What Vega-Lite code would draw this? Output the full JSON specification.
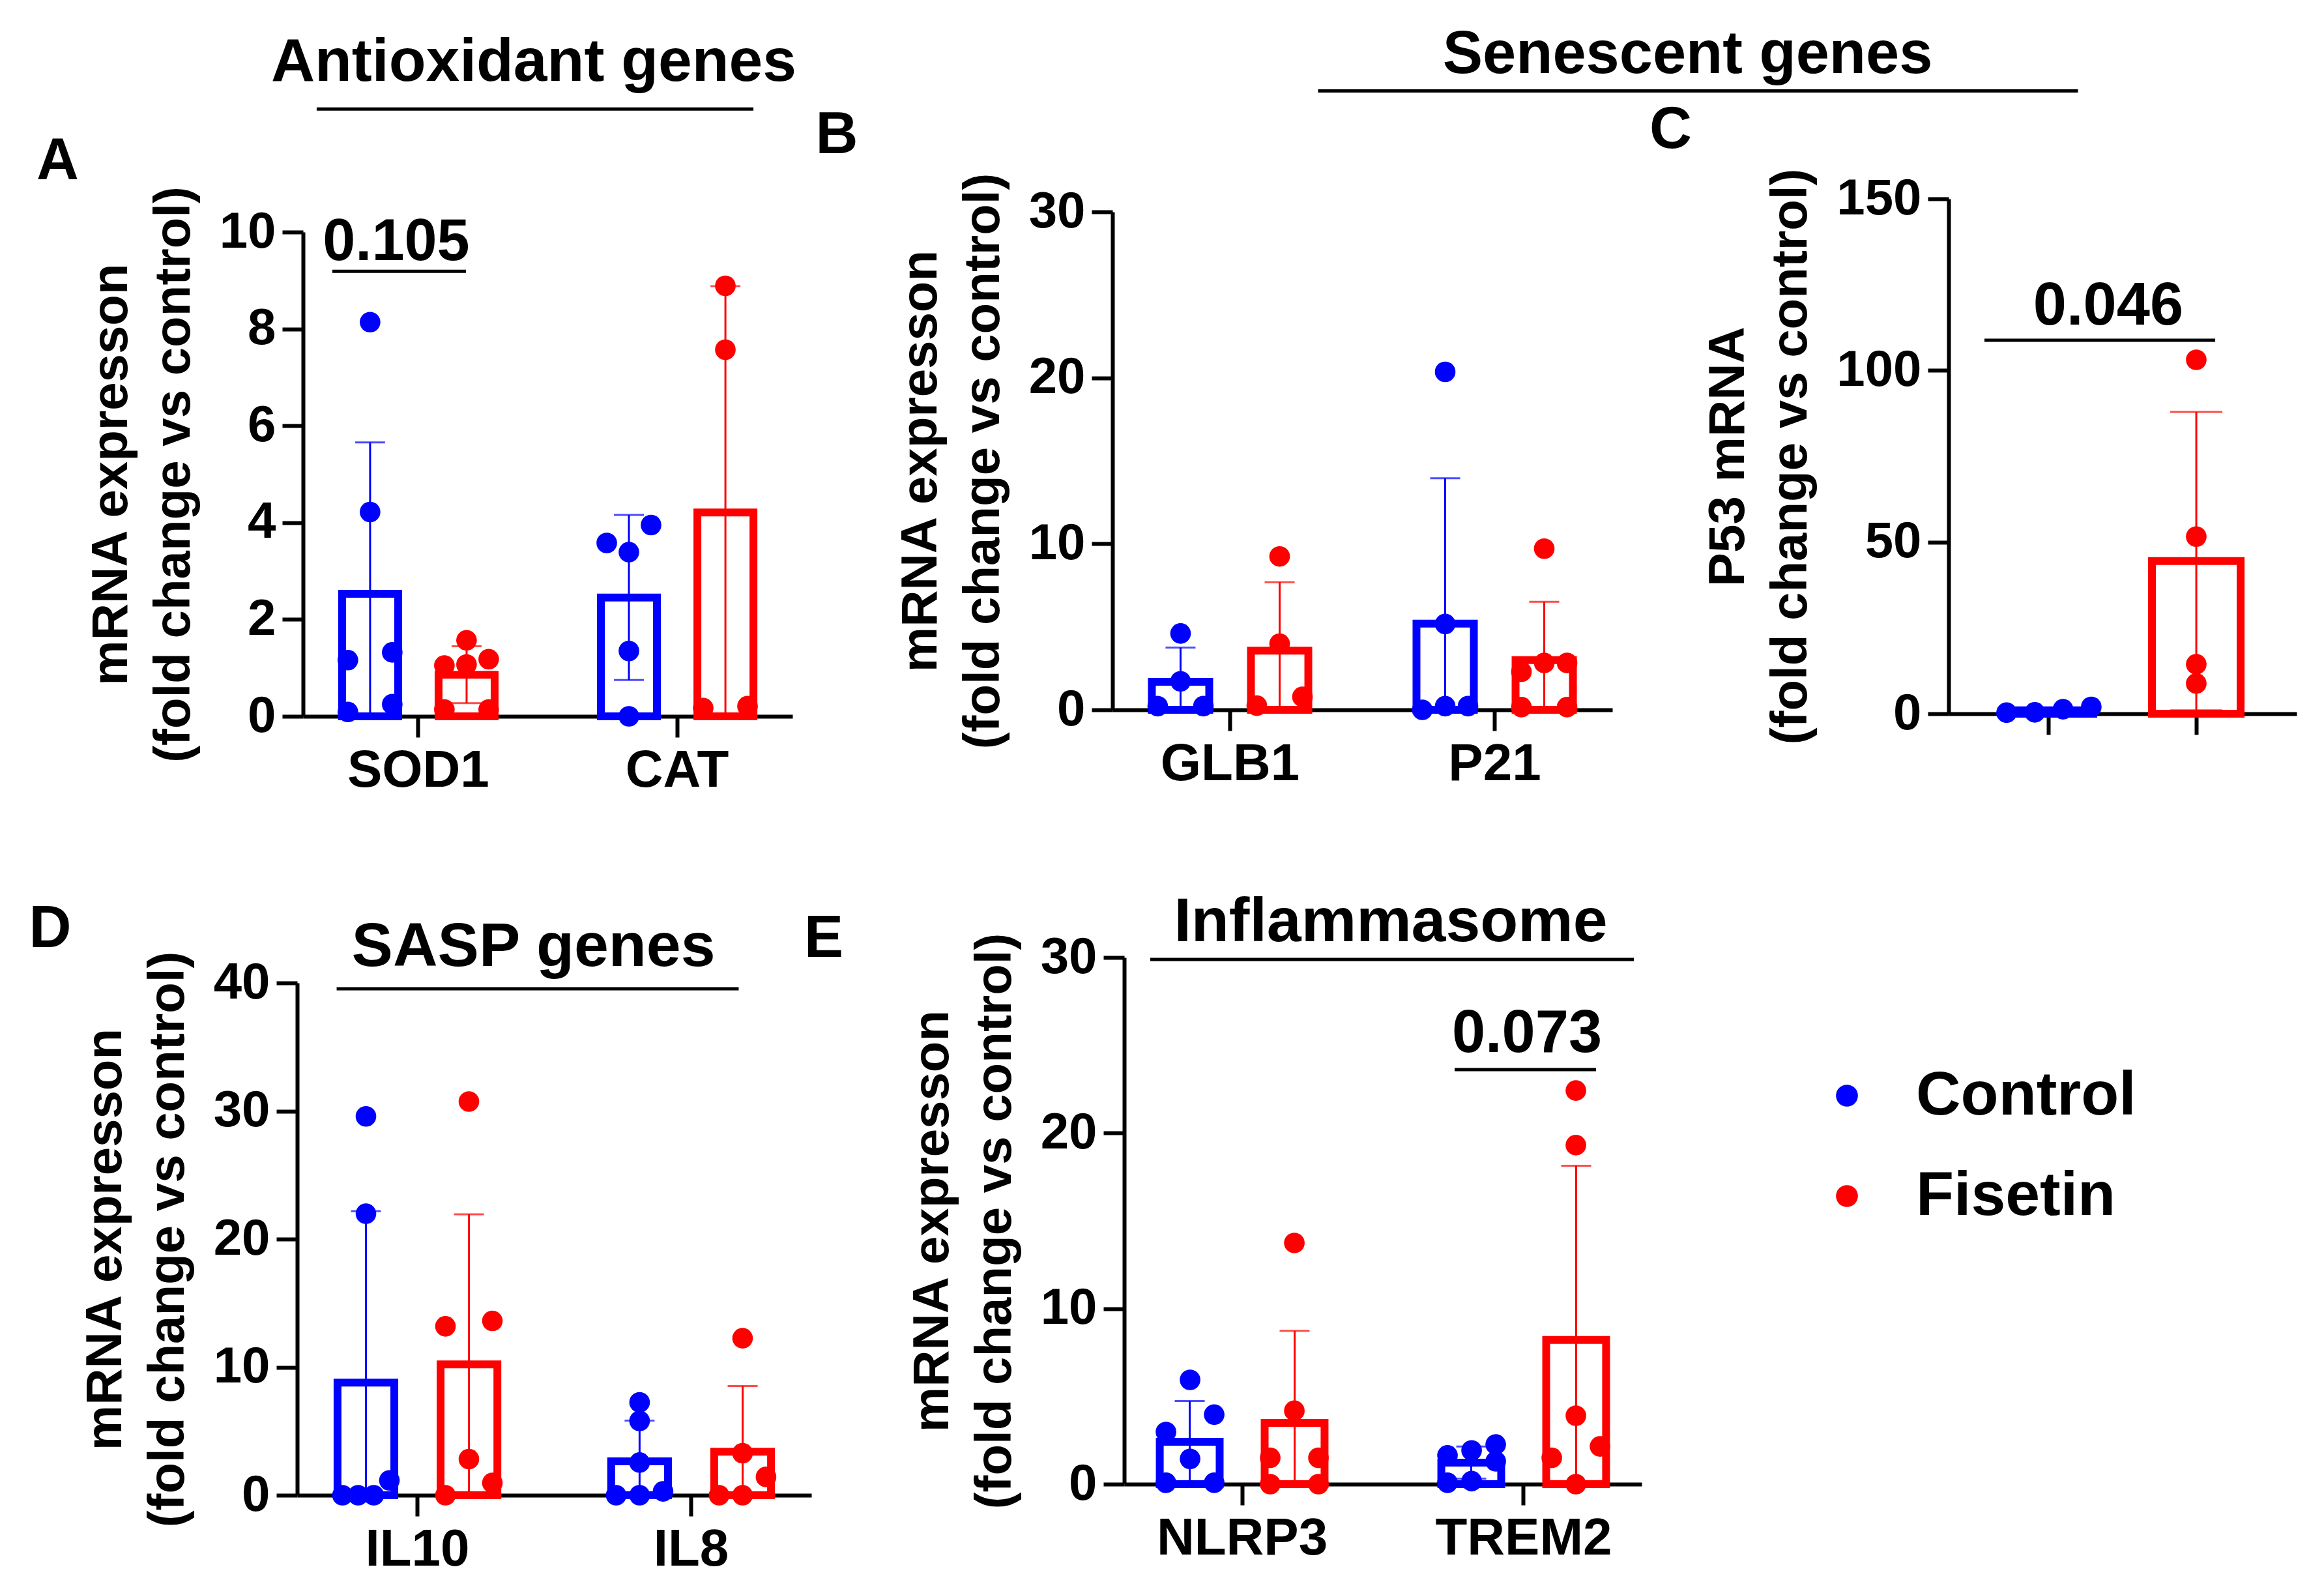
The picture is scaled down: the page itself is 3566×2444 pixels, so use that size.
{
"$schema": "https://vega.github.io/schema/vega-lite/v6.json",
"background": "white",
"padding": {"left": 44, "top": 38, "right": 20, "bottom": 20},
"config": {
  "view": {"stroke": null},
  "font": "Liberation Sans",
  "axis": {"grid": false, "domainColor": "black", "domainWidth": 6, "tickColor": "black", "tickWidth": 6, "tickSize": 32, "labelLimit": 0,
           "labelFont": "Liberation Sans", "labelFontSize": 78, "labelFontWeight": "bold", "labelColor": "black", "labelPadding": 10,
           "titleFont": "Liberation Sans", "titleFontSize": 78, "titleFontWeight": "bold", "titleColor": "black", "titleLineHeight": 96, "titlePadding": 30},
  "axisX": {"labelPadding": 12, "labelFontSize": 80, "labelAngle": 0},
  "text": {"font": "Liberation Sans", "fontWeight": "bold", "color": "black"}
},
"datasets": {
  "pts": [
    {"panel":"A","gene":"SOD1","group":"Control","value":8.14},
    {"panel":"A","gene":"SOD1","group":"Control","value":4.22},
    {"panel":"A","gene":"SOD1","group":"Control","value":1.16},
    {"panel":"A","gene":"SOD1","group":"Control","value":1.32},
    {"panel":"A","gene":"SOD1","group":"Control","value":0.09},
    {"panel":"A","gene":"SOD1","group":"Control","value":0.25},
    {"panel":"A","gene":"SOD1","group":"Fisetin","value":1.07},
    {"panel":"A","gene":"SOD1","group":"Fisetin","value":1.18},
    {"panel":"A","gene":"SOD1","group":"Fisetin","value":1.57},
    {"panel":"A","gene":"SOD1","group":"Fisetin","value":1.05},
    {"panel":"A","gene":"SOD1","group":"Fisetin","value":0.14},
    {"panel":"A","gene":"SOD1","group":"Fisetin","value":0.14},
    {"panel":"A","gene":"CAT","group":"Control","value":3.95},
    {"panel":"A","gene":"CAT","group":"Control","value":3.39},
    {"panel":"A","gene":"CAT","group":"Control","value":3.58},
    {"panel":"A","gene":"CAT","group":"Control","value":1.35},
    {"panel":"A","gene":"CAT","group":"Control","value":0},
    {"panel":"A","gene":"CAT","group":"Fisetin","value":8.89},
    {"panel":"A","gene":"CAT","group":"Fisetin","value":7.57},
    {"panel":"A","gene":"CAT","group":"Fisetin","value":0.17},
    {"panel":"A","gene":"CAT","group":"Fisetin","value":0.21},
    {"panel":"B","gene":"GLB1","group":"Control","value":4.6},
    {"panel":"B","gene":"GLB1","group":"Control","value":1.72},
    {"panel":"B","gene":"GLB1","group":"Control","value":0.22},
    {"panel":"B","gene":"GLB1","group":"Control","value":0.22},
    {"panel":"B","gene":"GLB1","group":"Fisetin","value":9.24},
    {"panel":"B","gene":"GLB1","group":"Fisetin","value":3.98},
    {"panel":"B","gene":"GLB1","group":"Fisetin","value":0.25},
    {"panel":"B","gene":"GLB1","group":"Fisetin","value":0.78},
    {"panel":"B","gene":"P21","group":"Control","value":20.36},
    {"panel":"B","gene":"P21","group":"Control","value":5.17},
    {"panel":"B","gene":"P21","group":"Control","value":0},
    {"panel":"B","gene":"P21","group":"Control","value":0.22},
    {"panel":"B","gene":"P21","group":"Control","value":0.22},
    {"panel":"B","gene":"P21","group":"Fisetin","value":9.71},
    {"panel":"B","gene":"P21","group":"Fisetin","value":2.82},
    {"panel":"B","gene":"P21","group":"Fisetin","value":2.82},
    {"panel":"B","gene":"P21","group":"Fisetin","value":2.29},
    {"panel":"B","gene":"P21","group":"Fisetin","value":0.16},
    {"panel":"B","gene":"P21","group":"Fisetin","value":0.16},
    {"panel":"C","gene":"P53","group":"Control","value":0.3},
    {"panel":"C","gene":"P53","group":"Control","value":2.0},
    {"panel":"C","gene":"P53","group":"Control","value":0.4},
    {"panel":"C","gene":"P53","group":"Control","value":1.3},
    {"panel":"C","gene":"P53","group":"Fisetin","value":103.1},
    {"panel":"C","gene":"P53","group":"Fisetin","value":51.6},
    {"panel":"C","gene":"P53","group":"Fisetin","value":14.4},
    {"panel":"C","gene":"P53","group":"Fisetin","value":8.8},
    {"panel":"D","gene":"IL10","group":"Control","value":29.58},
    {"panel":"D","gene":"IL10","group":"Control","value":21.98},
    {"panel":"D","gene":"IL10","group":"Control","value":1.16},
    {"panel":"D","gene":"IL10","group":"Control","value":0},
    {"panel":"D","gene":"IL10","group":"Control","value":0},
    {"panel":"D","gene":"IL10","group":"Control","value":0},
    {"panel":"D","gene":"IL10","group":"Fisetin","value":30.74},
    {"panel":"D","gene":"IL10","group":"Fisetin","value":13.61},
    {"panel":"D","gene":"IL10","group":"Fisetin","value":13.19},
    {"panel":"D","gene":"IL10","group":"Fisetin","value":2.82},
    {"panel":"D","gene":"IL10","group":"Fisetin","value":0},
    {"panel":"D","gene":"IL10","group":"Fisetin","value":0.96},
    {"panel":"D","gene":"IL8","group":"Control","value":7.25},
    {"panel":"D","gene":"IL8","group":"Control","value":5.8},
    {"panel":"D","gene":"IL8","group":"Control","value":2.55},
    {"panel":"D","gene":"IL8","group":"Control","value":0},
    {"panel":"D","gene":"IL8","group":"Control","value":0.3},
    {"panel":"D","gene":"IL8","group":"Control","value":0},
    {"panel":"D","gene":"IL8","group":"Fisetin","value":12.26},
    {"panel":"D","gene":"IL8","group":"Fisetin","value":3.28},
    {"panel":"D","gene":"IL8","group":"Fisetin","value":1.43},
    {"panel":"D","gene":"IL8","group":"Fisetin","value":0},
    {"panel":"D","gene":"IL8","group":"Fisetin","value":0},
    {"panel":"E","gene":"NLRP3","group":"Control","value":5.94},
    {"panel":"E","gene":"NLRP3","group":"Control","value":3.96},
    {"panel":"E","gene":"NLRP3","group":"Control","value":2.97},
    {"panel":"E","gene":"NLRP3","group":"Control","value":1.44},
    {"panel":"E","gene":"NLRP3","group":"Control","value":0.08},
    {"panel":"E","gene":"NLRP3","group":"Control","value":0.08},
    {"panel":"E","gene":"NLRP3","group":"Fisetin","value":13.74},
    {"panel":"E","gene":"NLRP3","group":"Fisetin","value":4.18},
    {"panel":"E","gene":"NLRP3","group":"Fisetin","value":1.5},
    {"panel":"E","gene":"NLRP3","group":"Fisetin","value":1.5},
    {"panel":"E","gene":"NLRP3","group":"Fisetin","value":0},
    {"panel":"E","gene":"NLRP3","group":"Fisetin","value":0},
    {"panel":"E","gene":"TREM2","group":"Control","value":1.64},
    {"panel":"E","gene":"TREM2","group":"Control","value":1.92},
    {"panel":"E","gene":"TREM2","group":"Control","value":2.26},
    {"panel":"E","gene":"TREM2","group":"Control","value":1.3},
    {"panel":"E","gene":"TREM2","group":"Control","value":0.08},
    {"panel":"E","gene":"TREM2","group":"Control","value":0.17},
    {"panel":"E","gene":"TREM2","group":"Fisetin","value":22.42},
    {"panel":"E","gene":"TREM2","group":"Fisetin","value":19.31},
    {"panel":"E","gene":"TREM2","group":"Fisetin","value":3.9},
    {"panel":"E","gene":"TREM2","group":"Fisetin","value":2.15},
    {"panel":"E","gene":"TREM2","group":"Fisetin","value":1.5},
    {"panel":"E","gene":"TREM2","group":"Fisetin","value":0}
  ]
},
"columns": 3,
"bounds": "flush",
"align": "each",
"spacing": {"row": 370, "column": 471},
"concat": [
   {
    "width": 751, "height": 794,
    "resolve": {"scale": {"xOffset": "independent"}},
    "layer": [
     {
      "data": {"name": "pts"},
      "transform": [
        {"filter": "datum.panel === 'A'"},
        {"aggregate": [{"op": "mean", "field": "value", "as": "mean"}, {"op": "stdev", "field": "value", "as": "sd"}], "groupby": ["gene", "group"]},
        {"calculate": "max(0, datum.mean - datum.sd)", "as": "lo"},
        {"calculate": "datum.mean + datum.sd", "as": "hi"}
      ],
      "layer": [
        {"mark": {"type": "bar", "filled": false, "strokeWidth": 12},
         "encoding": {
           "x": {"field": "gene", "type": "nominal", "scale": {"domain": ["SOD1", "CAT"], "range": [9, 760], "paddingInner": 0.345, "paddingOuter": 0.118}, "axis": {"title": null}},
           "xOffset": {"field": "group", "type": "nominal", "scale": {"domain": ["Control", "Fisetin"], "paddingInner": 0.419, "paddingOuter": 0.088}},
           "y": {"field": "mean", "type": "quantitative", "scale": {"domain": [0, 10], "range": [794, 51], "nice": false}, "axis": {"values": [0, 2, 4, 6, 8, 10], "format": "d", "offset": -9, "title": ["mRNA expresson", "(fold change vs control)"]}},
           "color": {"field": "group", "type": "nominal", "scale": {"domain": ["Control", "Fisetin"], "range": ["#0000ff", "#ff0000"]}, "legend": null}}},
        {"mark": {"type": "rule", "strokeWidth": 3},
         "encoding": {
           "x": {"field": "gene", "type": "nominal", "scale": {"domain": ["SOD1", "CAT"], "range": [9, 760], "paddingInner": 0.345, "paddingOuter": 0.118}},
           "xOffset": {"field": "group", "type": "nominal", "scale": {"domain": ["Control", "Fisetin"], "paddingInner": 0.419, "paddingOuter": 0.088}},
           "y": {"field": "lo", "type": "quantitative", "scale": {"domain": [0, 10], "range": [794, 51], "nice": false}},
           "y2": {"field": "hi"},
           "color": {"field": "group", "type": "nominal", "scale": {"domain": ["Control", "Fisetin"], "range": ["#0000ff", "#ff0000"]}, "legend": null}}},
        {"mark": {"type": "tick", "thickness": 3, "size": 46},
         "encoding": {
           "x": {"field": "gene", "type": "nominal", "scale": {"domain": ["SOD1", "CAT"], "range": [9, 760], "paddingInner": 0.345, "paddingOuter": 0.118}},
           "xOffset": {"field": "group", "type": "nominal", "scale": {"domain": ["Control", "Fisetin"], "paddingInner": 0.419, "paddingOuter": 0.088}},
           "y": {"field": "hi", "type": "quantitative", "scale": {"domain": [0, 10], "range": [794, 51], "nice": false}},
           "color": {"field": "group", "type": "nominal", "scale": {"domain": ["Control", "Fisetin"], "range": ["#0000ff", "#ff0000"]}, "legend": null}}},
        {"transform": [{"filter": "datum.mean - datum.sd > 0"}],
         "mark": {"type": "tick", "thickness": 3, "size": 46},
         "encoding": {
           "x": {"field": "gene", "type": "nominal", "scale": {"domain": ["SOD1", "CAT"], "range": [9, 760], "paddingInner": 0.345, "paddingOuter": 0.118}},
           "xOffset": {"field": "group", "type": "nominal", "scale": {"domain": ["Control", "Fisetin"], "paddingInner": 0.419, "paddingOuter": 0.088}},
           "y": {"field": "lo", "type": "quantitative", "scale": {"domain": [0, 10], "range": [794, 51], "nice": false}},
           "color": {"field": "group", "type": "nominal", "scale": {"domain": ["Control", "Fisetin"], "range": ["#0000ff", "#ff0000"]}, "legend": null}}}
      ]
     },
     {
      "data": {"name": "pts"},
      "transform": [
        {"filter": "datum.panel === 'A'"},
        {"calculate": "floor(datum.value / 0.5)", "as": "vb"},
        {"window": [{"op": "row_number", "as": "rank"}, {"op": "count", "as": "n"}], "groupby": ["gene", "group", "vb"], "sort": [{"field": "value", "order": "ascending"}], "frame": [null, null]},
        {"calculate": "(datum.group === 'Control' ? -74 : 74) + (datum.n === 1 ? 0 : -34 + (datum.rank - 1) * 68 / (datum.n - 1))", "as": "off"}
      ],
      "mark": {"type": "circle", "size": 1000, "opacity": 1},
      "encoding": {
        "x": {"field": "gene", "type": "nominal", "scale": {"domain": ["SOD1", "CAT"], "range": [9, 760], "paddingInner": 0.345, "paddingOuter": 0.118}},
        "xOffset": {"field": "off", "type": "quantitative", "scale": {"domain": [-130, 130], "range": [0, 260]}},
        "y": {"field": "value", "type": "quantitative", "scale": {"domain": [0, 10], "range": [794, 51], "nice": false}},
        "color": {"field": "group", "type": "nominal", "scale": {"domain": ["Control", "Fisetin"], "range": ["#0000ff", "#ff0000"]}, "legend": null}}
     },
     {
      "data": {"values": [{"gene": "SOD1", "y": 11.09, "t": "A"}]},
      "mark": {"type": "text", "fontSize": 90, "align": "left", "baseline": "alphabetic", "dx": -586},
      "encoding": {
        "x": {"field": "gene", "type": "nominal", "scale": {"domain": ["SOD1", "CAT"], "range": [9, 760], "paddingInner": 0.345, "paddingOuter": 0.118}},
        "y": {"field": "y", "type": "quantitative", "scale": {"domain": [0, 10], "range": [794, 51], "nice": false}},
        "text": {"field": "t"}}
     },
     {
      "data": {"values": [{"gene": "SOD1", "y": 13.12, "t": "Antioxidant genes"}]},
      "mark": {"type": "text", "fontSize": 93, "align": "center", "baseline": "alphabetic", "dx": 177},
      "encoding": {
        "x": {"field": "gene", "type": "nominal", "scale": {"domain": ["SOD1", "CAT"], "range": [9, 760], "paddingInner": 0.345, "paddingOuter": 0.118}},
        "y": {"field": "y", "type": "quantitative", "scale": {"domain": [0, 10], "range": [794, 51], "nice": false}},
        "text": {"field": "t"}}
     },
     {
      "data": {"values": [{"gene": "SOD1", "gene2": "CAT", "y": 12.54}]},
      "mark": {"type": "rule", "strokeWidth": 5, "color": "black", "xOffset": -156, "x2Offset": 117},
      "encoding": {
        "x": {"field": "gene", "type": "nominal", "scale": {"domain": ["SOD1", "CAT"], "range": [9, 760], "paddingInner": 0.345, "paddingOuter": 0.118}},
        "x2": {"field": "gene2"},
        "y": {"field": "y", "type": "quantitative", "scale": {"domain": [0, 10], "range": [794, 51], "nice": false}}}
     },
     {
      "data": {"values": [{"gene": "SOD1", "gene2": "SOD1", "y": 9.19}]},
      "mark": {"type": "rule", "strokeWidth": 5, "color": "black", "xOffset": -132, "x2Offset": 73},
      "encoding": {
        "x": {"field": "gene", "type": "nominal", "scale": {"domain": ["SOD1", "CAT"], "range": [9, 760], "paddingInner": 0.345, "paddingOuter": 0.118}},
        "x2": {"field": "gene2"},
        "y": {"field": "y", "type": "quantitative", "scale": {"domain": [0, 10], "range": [794, 51], "nice": false}}}
     },
     {
      "data": {"values": [{"gene": "SOD1", "y": 9.42, "t": "0.105"}]},
      "mark": {"type": "text", "fontSize": 90, "align": "center", "baseline": "alphabetic", "dx": -34},
      "encoding": {
        "x": {"field": "gene", "type": "nominal", "scale": {"domain": ["SOD1", "CAT"], "range": [9, 760], "paddingInner": 0.345, "paddingOuter": 0.118}},
        "y": {"field": "y", "type": "quantitative", "scale": {"domain": [0, 10], "range": [794, 51], "nice": false}},
        "text": {"field": "t"}}
     }
    ]
   },
   {
      "width": 767, "height": 784,
      "resolve": {"scale": {"xOffset": "independent"}},
      "layer": [
       {
        "data": {"name": "pts"},
        "transform": [
          {"filter": "datum.panel === 'B'"},
          {"aggregate": [{"op": "mean", "field": "value", "as": "mean"}, {"op": "stdev", "field": "value", "as": "sd"}], "groupby": ["gene", "group"]},
          {"calculate": "max(0, datum.mean - datum.sd)", "as": "lo"},
          {"calculate": "datum.mean + datum.sd", "as": "hi"}
        ],
        "layer": [
          {"mark": {"type": "bar", "filled": false, "strokeWidth": 12},
           "encoding": {
             "x": {"field": "gene", "type": "nominal", "scale": {"domain": ["GLB1", "P21"], "range": [-9, 758], "paddingInner": 0.335, "paddingOuter": 0.112}, "axis": {"title": null}},
             "xOffset": {"field": "group", "type": "nominal", "scale": {"domain": ["Control", "Fisetin"], "paddingInner": 0.421, "paddingOuter": 0.0985}},
             "y": {"field": "mean", "type": "quantitative", "scale": {"domain": [0, 30], "range": [784, 20], "nice": false}, "axis": {"values": [0, 10, 20, 30], "offset": 9, "title": ["mRNA expresson", "(fold change vs control)"]}},
             "color": {"field": "group", "type": "nominal", "scale": {"domain": ["Control", "Fisetin"], "range": ["#0000ff", "#ff0000"]}, "legend": null}}},
          {"mark": {"type": "rule", "strokeWidth": 3},
           "encoding": {
             "x": {"field": "gene", "type": "nominal", "scale": {"domain": ["GLB1", "P21"], "range": [-9, 758], "paddingInner": 0.335, "paddingOuter": 0.112}},
             "xOffset": {"field": "group", "type": "nominal", "scale": {"domain": ["Control", "Fisetin"], "paddingInner": 0.421, "paddingOuter": 0.0985}},
             "y": {"field": "lo", "type": "quantitative", "scale": {"domain": [0, 30], "range": [784, 20], "nice": false}},
             "y2": {"field": "hi"},
             "color": {"field": "group", "type": "nominal", "scale": {"domain": ["Control", "Fisetin"], "range": ["#0000ff", "#ff0000"]}, "legend": null}}},
          {"mark": {"type": "tick", "thickness": 3, "size": 46},
           "encoding": {
             "x": {"field": "gene", "type": "nominal", "scale": {"domain": ["GLB1", "P21"], "range": [-9, 758], "paddingInner": 0.335, "paddingOuter": 0.112}},
             "xOffset": {"field": "group", "type": "nominal", "scale": {"domain": ["Control", "Fisetin"], "paddingInner": 0.421, "paddingOuter": 0.0985}},
             "y": {"field": "hi", "type": "quantitative", "scale": {"domain": [0, 30], "range": [784, 20], "nice": false}},
             "color": {"field": "group", "type": "nominal", "scale": {"domain": ["Control", "Fisetin"], "range": ["#0000ff", "#ff0000"]}, "legend": null}}},
          {"transform": [{"filter": "datum.mean - datum.sd > 0"}],
           "mark": {"type": "tick", "thickness": 3, "size": 46},
           "encoding": {
             "x": {"field": "gene", "type": "nominal", "scale": {"domain": ["GLB1", "P21"], "range": [-9, 758], "paddingInner": 0.335, "paddingOuter": 0.112}},
             "xOffset": {"field": "group", "type": "nominal", "scale": {"domain": ["Control", "Fisetin"], "paddingInner": 0.421, "paddingOuter": 0.0985}},
             "y": {"field": "lo", "type": "quantitative", "scale": {"domain": [0, 30], "range": [784, 20], "nice": false}},
             "color": {"field": "group", "type": "nominal", "scale": {"domain": ["Control", "Fisetin"], "range": ["#0000ff", "#ff0000"]}, "legend": null}}}
        ]
       },
       {
        "data": {"name": "pts"},
        "transform": [
          {"filter": "datum.panel === 'B'"},
          {"calculate": "floor(datum.value / 1.5)", "as": "vb"},
          {"window": [{"op": "row_number", "as": "rank"}, {"op": "count", "as": "n"}], "groupby": ["gene", "group", "vb"], "sort": [{"field": "value", "order": "ascending"}], "frame": [null, null]},
          {"calculate": "(datum.group === 'Control' ? -76 : 76) + (datum.n === 1 ? 0 : -35 + (datum.rank - 1) * 70 / (datum.n - 1))", "as": "off"}
        ],
        "mark": {"type": "circle", "size": 1000, "opacity": 1},
        "encoding": {
          "x": {"field": "gene", "type": "nominal", "scale": {"domain": ["GLB1", "P21"], "range": [-9, 758], "paddingInner": 0.335, "paddingOuter": 0.112}},
          "xOffset": {"field": "off", "type": "quantitative", "scale": {"domain": [-135, 135], "range": [0, 270]}},
          "y": {"field": "value", "type": "quantitative", "scale": {"domain": [0, 30], "range": [784, 20], "nice": false}},
          "color": {"field": "group", "type": "nominal", "scale": {"domain": ["Control", "Fisetin"], "range": ["#0000ff", "#ff0000"]}, "legend": null}}
       },
       {
        "data": {"values": [{"gene": "GLB1", "y": 33.53, "t": "B"}]},
        "mark": {"type": "text", "fontSize": 90, "align": "left", "baseline": "alphabetic", "dx": -636},
        "encoding": {
          "x": {"field": "gene", "type": "nominal", "scale": {"domain": ["GLB1", "P21"], "range": [-9, 758], "paddingInner": 0.335, "paddingOuter": 0.112}},
          "y": {"field": "y", "type": "quantitative", "scale": {"domain": [0, 30], "range": [784, 20], "nice": false}},
          "text": {"field": "t"}}
       },
       {
        "data": {"values": [{"gene": "P21", "y": 38.36, "t": "Senescent genes"}]},
        "mark": {"type": "text", "fontSize": 92, "align": "center", "baseline": "alphabetic", "dx": 296},
        "encoding": {
          "x": {"field": "gene", "type": "nominal", "scale": {"domain": ["GLB1", "P21"], "range": [-9, 758], "paddingInner": 0.335, "paddingOuter": 0.112}},
          "y": {"field": "y", "type": "quantitative", "scale": {"domain": [0, 30], "range": [784, 20], "nice": false}},
          "text": {"field": "t"}}
       },
       {
        "data": {"values": [{"gene": "GLB1", "gene2": "P21", "y": 37.28}]},
        "mark": {"type": "rule", "strokeWidth": 5, "color": "black", "xOffset": 135, "x2Offset": 895},
        "encoding": {
          "x": {"field": "gene", "type": "nominal", "scale": {"domain": ["GLB1", "P21"], "range": [-9, 758], "paddingInner": 0.335, "paddingOuter": 0.112}},
          "x2": {"field": "gene2"},
          "y": {"field": "y", "type": "quantitative", "scale": {"domain": [0, 30], "range": [784, 20], "nice": false}}}
       }
      ]
   },
   {
      "width": 534, "height": 790,
      "resolve": {"scale": {"xOffset": "independent"}},
      "layer": [
       {
        "data": {"name": "pts"},
        "transform": [
          {"filter": "datum.panel === 'C'"},
          {"aggregate": [{"op": "mean", "field": "value", "as": "mean"}, {"op": "stdev", "field": "value", "as": "sd"}], "groupby": ["group"]},
          {"calculate": "max(0, datum.mean - datum.sd)", "as": "lo"},
          {"calculate": "datum.mean + datum.sd", "as": "hi"}
        ],
        "layer": [
          {"mark": {"type": "bar", "filled": false, "strokeWidth": 12},
           "encoding": {
             "x": {"field": "group", "type": "nominal", "scale": {"domain": ["Control", "Fisetin"], "range": [9, 543], "paddingInner": 0.398, "paddingOuter": 0.38}, "axis": {"title": null, "labels": false}},
             "y": {"field": "mean", "type": "quantitative", "scale": {"domain": [0, 150], "nice": false}, "axis": {"values": [0, 50, 100, 150], "offset": -9, "title": ["P53 mRNA", "(fold change vs control)"]}},
             "color": {"field": "group", "type": "nominal", "scale": {"domain": ["Control", "Fisetin"], "range": ["#0000ff", "#ff0000"]}, "legend": null}}},
          {"mark": {"type": "rule", "strokeWidth": 3},
           "encoding": {
             "x": {"field": "group", "type": "nominal", "scale": {"domain": ["Control", "Fisetin"], "range": [9, 543], "paddingInner": 0.398, "paddingOuter": 0.38}},
             "y": {"field": "lo", "type": "quantitative", "scale": {"domain": [0, 150], "nice": false}},
             "y2": {"field": "hi"},
             "color": {"field": "group", "type": "nominal", "scale": {"domain": ["Control", "Fisetin"], "range": ["#0000ff", "#ff0000"]}, "legend": null}}},
          {"mark": {"type": "tick", "thickness": 3, "size": 80},
           "encoding": {
             "x": {"field": "group", "type": "nominal", "scale": {"domain": ["Control", "Fisetin"], "range": [9, 543], "paddingInner": 0.398, "paddingOuter": 0.38}},
             "y": {"field": "hi", "type": "quantitative", "scale": {"domain": [0, 150], "nice": false}},
             "color": {"field": "group", "type": "nominal", "scale": {"domain": ["Control", "Fisetin"], "range": ["#0000ff", "#ff0000"]}, "legend": null}}},
          {"transform": [{"filter": "datum.mean - datum.sd > 0"}],
           "mark": {"type": "tick", "thickness": 3, "size": 80},
           "encoding": {
             "x": {"field": "group", "type": "nominal", "scale": {"domain": ["Control", "Fisetin"], "range": [9, 543], "paddingInner": 0.398, "paddingOuter": 0.38}},
             "y": {"field": "lo", "type": "quantitative", "scale": {"domain": [0, 150], "nice": false}},
             "color": {"field": "group", "type": "nominal", "scale": {"domain": ["Control", "Fisetin"], "range": ["#0000ff", "#ff0000"]}, "legend": null}}}
        ]
       },
       {
        "data": {"name": "pts"},
        "transform": [
          {"filter": "datum.panel === 'C'"},
          {"calculate": "floor(datum.value / 7)", "as": "vb"},
          {"window": [{"op": "row_number", "as": "rank"}, {"op": "count", "as": "n"}], "groupby": ["group", "vb"], "sort": [{"field": "value", "order": "ascending"}], "frame": [null, null]},
          {"calculate": "datum.n === 1 ? 0 : -65 + (datum.rank - 1) * 130 / (datum.n - 1)", "as": "off"}
        ],
        "mark": {"type": "circle", "size": 1000, "opacity": 1},
        "encoding": {
          "x": {"field": "group", "type": "nominal", "scale": {"domain": ["Control", "Fisetin"], "range": [9, 543], "paddingInner": 0.398, "paddingOuter": 0.38}},
          "xOffset": {"field": "off", "type": "quantitative", "scale": {"domain": [-68, 68], "range": [0, 136]}},
          "y": {"field": "value", "type": "quantitative", "scale": {"domain": [0, 150], "nice": false}},
          "color": {"field": "group", "type": "nominal", "scale": {"domain": ["Control", "Fisetin"], "range": ["#0000ff", "#ff0000"]}, "legend": null}}
       },
       {
        "data": {"values": [{"group": "Control", "y": 164.8, "t": "C"}]},
        "mark": {"type": "text", "fontSize": 90, "align": "left", "baseline": "alphabetic", "dx": -613},
        "encoding": {
          "x": {"field": "group", "type": "nominal", "scale": {"domain": ["Control", "Fisetin"], "range": [9, 543], "paddingInner": 0.398, "paddingOuter": 0.38}},
          "y": {"field": "y", "type": "quantitative", "scale": {"domain": [0, 150], "nice": false}},
          "text": {"field": "t"}}
       },
       {
        "data": {"values": [{"group": "Control", "group2": "Fisetin", "y": 108.8}]},
        "mark": {"type": "rule", "strokeWidth": 5, "color": "black", "xOffset": -99, "x2Offset": 29},
        "encoding": {
          "x": {"field": "group", "type": "nominal", "scale": {"domain": ["Control", "Fisetin"], "range": [9, 543], "paddingInner": 0.398, "paddingOuter": 0.38}},
          "x2": {"field": "group2"},
          "y": {"field": "y", "type": "quantitative", "scale": {"domain": [0, 150], "nice": false}}}
       },
       {
        "data": {"values": [{"group": "Control", "y": 113.4, "t": "0.046"}]},
        "mark": {"type": "text", "fontSize": 92, "align": "center", "baseline": "alphabetic", "dx": 91},
        "encoding": {
          "x": {"field": "group", "type": "nominal", "scale": {"domain": ["Control", "Fisetin"], "range": [9, 543], "paddingInner": 0.398, "paddingOuter": 0.38}},
          "y": {"field": "y", "type": "quantitative", "scale": {"domain": [0, 150], "nice": false}},
          "text": {"field": "t"}}
       }
      ]
   },
   {
    "width": 789, "height": 825,
    "resolve": {"scale": {"xOffset": "independent"}},
    "layer": [
     {
      "data": {"name": "pts"},
      "transform": [
        {"filter": "datum.panel === 'D'"},
        {"aggregate": [{"op": "mean", "field": "value", "as": "mean"}, {"op": "stdev", "field": "value", "as": "sd"}], "groupby": ["gene", "group"]},
        {"calculate": "max(0, datum.mean - datum.sd)", "as": "lo"},
        {"calculate": "datum.mean + datum.sd", "as": "hi"}
      ],
      "layer": [
        {"mark": {"type": "bar", "filled": false, "strokeWidth": 12},
         "encoding": {
           "x": {"field": "gene", "type": "nominal", "scale": {"domain": ["IL10", "IL8"], "paddingInner": 0.333, "paddingOuter": 0.106}, "axis": {"title": null}},
           "xOffset": {"field": "group", "type": "nominal", "scale": {"domain": ["Control", "Fisetin"], "paddingInner": 0.449, "paddingOuter": 0.11}},
           "y": {"field": "mean", "type": "quantitative", "scale": {"domain": [0, 40], "range": [825, 39], "nice": false}, "axis": {"values": [0, 10, 20, 30, 40], "title": ["mRNA expresson", "(fold change vs control)"]}},
           "color": {"field": "group", "type": "nominal", "scale": {"domain": ["Control", "Fisetin"], "range": ["#0000ff", "#ff0000"]}, "legend": null}}},
        {"mark": {"type": "rule", "strokeWidth": 3},
         "encoding": {
           "x": {"field": "gene", "type": "nominal", "scale": {"domain": ["IL10", "IL8"], "paddingInner": 0.333, "paddingOuter": 0.106}},
           "xOffset": {"field": "group", "type": "nominal", "scale": {"domain": ["Control", "Fisetin"], "paddingInner": 0.449, "paddingOuter": 0.11}},
           "y": {"field": "lo", "type": "quantitative", "scale": {"domain": [0, 40], "range": [825, 39], "nice": false}},
           "y2": {"field": "hi"},
           "color": {"field": "group", "type": "nominal", "scale": {"domain": ["Control", "Fisetin"], "range": ["#0000ff", "#ff0000"]}, "legend": null}}},
        {"mark": {"type": "tick", "thickness": 3, "size": 46},
         "encoding": {
           "x": {"field": "gene", "type": "nominal", "scale": {"domain": ["IL10", "IL8"], "paddingInner": 0.333, "paddingOuter": 0.106}},
           "xOffset": {"field": "group", "type": "nominal", "scale": {"domain": ["Control", "Fisetin"], "paddingInner": 0.449, "paddingOuter": 0.11}},
           "y": {"field": "hi", "type": "quantitative", "scale": {"domain": [0, 40], "range": [825, 39], "nice": false}},
           "color": {"field": "group", "type": "nominal", "scale": {"domain": ["Control", "Fisetin"], "range": ["#0000ff", "#ff0000"]}, "legend": null}}},
        {"transform": [{"filter": "datum.mean - datum.sd > 0"}],
         "mark": {"type": "tick", "thickness": 3, "size": 46},
         "encoding": {
           "x": {"field": "gene", "type": "nominal", "scale": {"domain": ["IL10", "IL8"], "paddingInner": 0.333, "paddingOuter": 0.106}},
           "xOffset": {"field": "group", "type": "nominal", "scale": {"domain": ["Control", "Fisetin"], "paddingInner": 0.449, "paddingOuter": 0.11}},
           "y": {"field": "lo", "type": "quantitative", "scale": {"domain": [0, 40], "range": [825, 39], "nice": false}},
           "color": {"field": "group", "type": "nominal", "scale": {"domain": ["Control", "Fisetin"], "range": ["#0000ff", "#ff0000"]}, "legend": null}}}
      ]
     },
     {
      "data": {"name": "pts"},
      "transform": [
        {"filter": "datum.panel === 'D'"},
        {"calculate": "floor(datum.value / 2)", "as": "vb"},
        {"window": [{"op": "row_number", "as": "rank"}, {"op": "count", "as": "n"}], "groupby": ["gene", "group", "vb"], "sort": [{"field": "value", "order": "ascending"}], "frame": [null, null]},
        {"calculate": "(datum.group === 'Control' ? -79 : 79) + (datum.n === 1 ? 0 : -36 + (datum.rank - 1) * 72 / (datum.n - 1))", "as": "off"}
      ],
      "mark": {"type": "circle", "size": 1000, "opacity": 1},
      "encoding": {
        "x": {"field": "gene", "type": "nominal", "scale": {"domain": ["IL10", "IL8"], "paddingInner": 0.333, "paddingOuter": 0.106}},
        "xOffset": {"field": "off", "type": "quantitative", "scale": {"domain": [-140, 140], "range": [0, 280]}},
        "y": {"field": "value", "type": "quantitative", "scale": {"domain": [0, 40], "range": [825, 39], "nice": false}},
        "color": {"field": "group", "type": "nominal", "scale": {"domain": ["Control", "Fisetin"], "range": ["#0000ff", "#ff0000"]}, "legend": null}}
     },
     {
      "data": {"values": [{"gene": "IL10", "y": 42.8, "t": "D"}]},
      "mark": {"type": "text", "fontSize": 90, "align": "left", "baseline": "alphabetic", "dx": -596},
      "encoding": {
        "x": {"field": "gene", "type": "nominal", "scale": {"domain": ["IL10", "IL8"], "paddingInner": 0.333, "paddingOuter": 0.106}},
        "y": {"field": "y", "type": "quantitative", "scale": {"domain": [0, 40], "range": [825, 39], "nice": false}},
        "text": {"field": "t"}}
     },
     {
      "data": {"values": [{"gene": "IL10", "y": 41.32, "t": "SASP genes"}]},
      "mark": {"type": "text", "fontSize": 95, "align": "center", "baseline": "alphabetic", "dx": 178},
      "encoding": {
        "x": {"field": "gene", "type": "nominal", "scale": {"domain": ["IL10", "IL8"], "paddingInner": 0.333, "paddingOuter": 0.106}},
        "y": {"field": "y", "type": "quantitative", "scale": {"domain": [0, 40], "range": [825, 39], "nice": false}},
        "text": {"field": "t"}}
     },
     {
      "data": {"values": [{"gene": "IL10", "gene2": "IL8", "y": 39.54}]},
      "mark": {"type": "rule", "strokeWidth": 5, "color": "black", "xOffset": -124, "x2Offset": 73},
      "encoding": {
        "x": {"field": "gene", "type": "nominal", "scale": {"domain": ["IL10", "IL8"], "paddingInner": 0.333, "paddingOuter": 0.106}},
        "x2": {"field": "gene2"},
        "y": {"field": "y", "type": "quantitative", "scale": {"domain": [0, 40], "range": [825, 39], "nice": false}}}
     }
    ]
   },
   {
    "width": 794, "height": 808,
    "resolve": {"scale": {"y": "independent"}},
    "layer": [
     {
      "resolve": {"scale": {"xOffset": "independent"}},
      "layer": [
       {
        "data": {"name": "pts"},
        "transform": [
          {"filter": "datum.panel === 'E'"},
          {"aggregate": [{"op": "mean", "field": "value", "as": "mean"}, {"op": "stdev", "field": "value", "as": "sd"}], "groupby": ["gene", "group"]},
          {"calculate": "max(0, datum.mean - datum.sd)", "as": "lo"},
          {"calculate": "datum.mean + datum.sd", "as": "hi"}
        ],
        "layer": [
          {"mark": {"type": "bar", "filled": false, "strokeWidth": 12},
           "encoding": {
             "x": {"field": "gene", "type": "nominal", "scale": {"domain": ["NLRP3", "TREM2"], "range": [9, 803], "paddingInner": 0.329, "paddingOuter": 0.0835}, "axis": {"title": null}},
             "xOffset": {"field": "group", "type": "nominal", "scale": {"domain": ["Control", "Fisetin"], "paddingInner": 0.429, "paddingOuter": 0.115}},
             "y": {"field": "mean", "type": "quantitative", "scale": {"domain": [0, 30], "nice": false}, "axis": {"values": [0, 10, 20, 30], "offset": -9, "title": ["mRNA expresson", "(fold change vs control)"]}},
             "color": {"field": "group", "type": "nominal", "scale": {"domain": ["Control", "Fisetin"], "range": ["#0000ff", "#ff0000"]}, "legend": null}}},
          {"mark": {"type": "rule", "strokeWidth": 3},
           "encoding": {
             "x": {"field": "gene", "type": "nominal", "scale": {"domain": ["NLRP3", "TREM2"], "range": [9, 803], "paddingInner": 0.329, "paddingOuter": 0.0835}},
             "xOffset": {"field": "group", "type": "nominal", "scale": {"domain": ["Control", "Fisetin"], "paddingInner": 0.429, "paddingOuter": 0.115}},
             "y": {"field": "lo", "type": "quantitative", "scale": {"domain": [0, 30], "nice": false}},
             "y2": {"field": "hi"},
             "color": {"field": "group", "type": "nominal", "scale": {"domain": ["Control", "Fisetin"], "range": ["#0000ff", "#ff0000"]}, "legend": null}}},
          {"mark": {"type": "tick", "thickness": 3, "size": 46},
           "encoding": {
             "x": {"field": "gene", "type": "nominal", "scale": {"domain": ["NLRP3", "TREM2"], "range": [9, 803], "paddingInner": 0.329, "paddingOuter": 0.0835}},
             "xOffset": {"field": "group", "type": "nominal", "scale": {"domain": ["Control", "Fisetin"], "paddingInner": 0.429, "paddingOuter": 0.115}},
             "y": {"field": "hi", "type": "quantitative", "scale": {"domain": [0, 30], "nice": false}},
             "color": {"field": "group", "type": "nominal", "scale": {"domain": ["Control", "Fisetin"], "range": ["#0000ff", "#ff0000"]}, "legend": null}}},
          {"transform": [{"filter": "datum.mean - datum.sd > 0"}],
           "mark": {"type": "tick", "thickness": 3, "size": 46},
           "encoding": {
             "x": {"field": "gene", "type": "nominal", "scale": {"domain": ["NLRP3", "TREM2"], "range": [9, 803], "paddingInner": 0.329, "paddingOuter": 0.0835}},
             "xOffset": {"field": "group", "type": "nominal", "scale": {"domain": ["Control", "Fisetin"], "paddingInner": 0.429, "paddingOuter": 0.115}},
             "y": {"field": "lo", "type": "quantitative", "scale": {"domain": [0, 30], "nice": false}},
             "color": {"field": "group", "type": "nominal", "scale": {"domain": ["Control", "Fisetin"], "range": ["#0000ff", "#ff0000"]}, "legend": null}}}
        ]
       },
       {
        "data": {"name": "pts"},
        "transform": [
          {"filter": "datum.panel === 'E'"},
          {"calculate": "floor(datum.value / 1.4)", "as": "vb"},
          {"window": [{"op": "row_number", "as": "rank"}, {"op": "count", "as": "n"}], "groupby": ["gene", "group", "vb"], "sort": [{"field": "value", "order": "ascending"}], "frame": [null, null]},
          {"calculate": "(datum.group === 'Control' ? -80 : 80) + (datum.n === 1 ? 0 : -37 + (datum.rank - 1) * 74 / (datum.n - 1))", "as": "off"}
        ],
        "mark": {"type": "circle", "size": 1000, "opacity": 1},
        "encoding": {
          "x": {"field": "gene", "type": "nominal", "scale": {"domain": ["NLRP3", "TREM2"], "range": [9, 803], "paddingInner": 0.329, "paddingOuter": 0.0835}},
          "xOffset": {"field": "off", "type": "quantitative", "scale": {"domain": [-145, 145], "range": [0, 290]}},
          "y": {"field": "value", "type": "quantitative", "scale": {"domain": [0, 30], "nice": false}},
          "color": {"field": "group", "type": "nominal", "scale": {"domain": ["Control", "Fisetin"], "range": ["#0000ff", "#ff0000"]}, "legend": null}}
       },
       {
        "data": {"values": [{"gene": "NLRP3", "y": 30.04, "t": "E"}]},
        "mark": {"type": "text", "fontSize": 90, "align": "left", "baseline": "alphabetic", "dx": -672},
        "encoding": {
          "x": {"field": "gene", "type": "nominal", "scale": {"domain": ["NLRP3", "TREM2"], "range": [9, 803], "paddingInner": 0.329, "paddingOuter": 0.0835}},
          "y": {"field": "y", "type": "quantitative", "scale": {"domain": [0, 30], "nice": false}},
          "text": {"field": "t"}}
       },
       {
        "data": {"values": [{"gene": "TREM2", "y": 30.93, "t": "Inflammasome"}]},
        "mark": {"type": "text", "fontSize": 95, "align": "center", "baseline": "alphabetic", "dx": -204},
        "encoding": {
          "x": {"field": "gene", "type": "nominal", "scale": {"domain": ["NLRP3", "TREM2"], "range": [9, 803], "paddingInner": 0.329, "paddingOuter": 0.0835}},
          "y": {"field": "y", "type": "quantitative", "scale": {"domain": [0, 30], "nice": false}},
          "text": {"field": "t"}}
       },
       {
        "data": {"values": [{"gene": "NLRP3", "gene2": "TREM2", "y": 29.89}]},
        "mark": {"type": "rule", "strokeWidth": 5, "color": "black", "xOffset": -141, "x2Offset": 169},
        "encoding": {
          "x": {"field": "gene", "type": "nominal", "scale": {"domain": ["NLRP3", "TREM2"], "range": [9, 803], "paddingInner": 0.329, "paddingOuter": 0.0835}},
          "x2": {"field": "gene2"},
          "y": {"field": "y", "type": "quantitative", "scale": {"domain": [0, 30], "nice": false}}}
       },
       {
        "data": {"values": [{"gene": "TREM2", "gene2": "TREM2", "y": 23.61}]},
        "mark": {"type": "rule", "strokeWidth": 5, "color": "black", "xOffset": -106, "x2Offset": 111},
        "encoding": {
          "x": {"field": "gene", "type": "nominal", "scale": {"domain": ["NLRP3", "TREM2"], "range": [9, 803], "paddingInner": 0.329, "paddingOuter": 0.0835}},
          "x2": {"field": "gene2"},
          "y": {"field": "y", "type": "quantitative", "scale": {"domain": [0, 30], "nice": false}}}
       },
       {
        "data": {"values": [{"gene": "TREM2", "y": 24.62, "t": "0.073"}]},
        "mark": {"type": "text", "fontSize": 92, "align": "center", "baseline": "alphabetic", "dx": 5},
        "encoding": {
          "x": {"field": "gene", "type": "nominal", "scale": {"domain": ["NLRP3", "TREM2"], "range": [9, 803], "paddingInner": 0.329, "paddingOuter": 0.0835}},
          "y": {"field": "y", "type": "quantitative", "scale": {"domain": [0, 30], "nice": false}},
          "text": {"field": "t"}}
       }
      ]
     },
     {
      "data": {"values": [{"group": "Control"}, {"group": "Fisetin"}]},
      "layer": [
        {"mark": {"type": "circle", "size": 1134, "opacity": 1, "xOffset": 496},
         "encoding": {
           "x": {"datum": "TREM2", "type": "nominal", "scale": {"domain": ["NLRP3", "TREM2"], "range": [9, 803], "paddingInner": 0.329, "paddingOuter": 0.0835}},
           "y": {"field": "group", "type": "nominal", "scale": {"type": "point", "domain": ["Control", "Fisetin"], "range": [212, 366], "padding": 0}, "axis": null},
           "color": {"field": "group", "type": "nominal", "scale": {"domain": ["Control", "Fisetin"], "range": ["#0000ff", "#ff0000"]}, "legend": null}}},
        {"mark": {"type": "text", "fontSize": 95, "align": "left", "baseline": "middle", "dx": 602},
         "encoding": {
           "x": {"datum": "TREM2", "type": "nominal", "scale": {"domain": ["NLRP3", "TREM2"], "range": [9, 803], "paddingInner": 0.329, "paddingOuter": 0.0835}},
           "y": {"field": "group", "type": "nominal", "scale": {"type": "point", "domain": ["Control", "Fisetin"], "range": [212, 366], "padding": 0}, "axis": null},
           "text": {"field": "group"}}}
      ]
     }
    ]
   }
]
}
